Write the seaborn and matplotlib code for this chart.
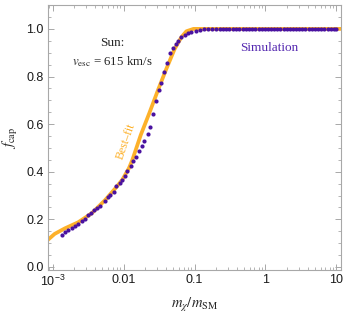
import numpy as np
import pandas as pd
import matplotlib
matplotlib.use('Agg')
import matplotlib.pyplot as plt
import matplotlib.ticker as mticker
import seaborn as sns

# simulation points (m_chi/m_SM, f_cap)
sim_x = [0.001358, 0.001518, 0.001654, 0.001849, 0.002062, 0.002298, 0.00257, 0.002865, 0.003194, 0.00349,
         0.00389, 0.004209, 0.004692, 0.005405, 0.006043, 0.006521, 0.007268, 0.007863, 0.008767, 0.009581,
         0.01044, 0.01129, 0.01259, 0.01376, 0.01484, 0.01654, 0.01807, 0.0195, 0.02181, 0.02375,
         0.02622, 0.02865, 0.03131, 0.03378, 0.03765, 0.04074, 0.04541, 0.04963, 0.05405, 0.05848,
         0.06521, 0.07268, 0.08128, 0.09061, 0.1044, 0.119, 0.1358,
         0.155, 0.176, 0.2, 0.225, 0.25, 0.28, 0.31, 0.35, 0.39, 0.43,
         0.48, 0.53, 0.59, 0.65, 0.72, 0.8, 0.88, 0.98, 1.08, 1.2,
         1.33, 1.47, 1.62, 1.8, 2.0, 2.2, 2.45, 2.7, 3.0, 3.3,
         3.65, 4.05, 4.5, 5.0, 5.5, 6.1, 6.75, 7.5, 8.3, 9.2, 10.0]
sim_y = [0.136, 0.148, 0.154, 0.164, 0.174, 0.182, 0.192, 0.203, 0.217, 0.226,
         0.238, 0.249, 0.258, 0.276, 0.293, 0.304, 0.316, 0.342, 0.352, 0.366,
         0.384, 0.405, 0.424, 0.447, 0.463, 0.489, 0.508, 0.531, 0.559, 0.587,
         0.643, 0.697, 0.742, 0.774, 0.821, 0.856, 0.900, 0.919, 0.937, 0.951,
         0.965, 0.975, 0.982, 0.989, 0.993, 0.996, 0.999,
         1.0, 1.0, 1.0, 1.0, 1.0, 1.0, 1.0, 1.0, 1.0, 1.0,
         1.0, 1.0, 1.0, 1.0, 1.0, 1.0, 1.0, 1.0, 1.0, 1.0,
         1.0, 1.0, 1.0, 1.0, 1.0, 1.0, 1.0, 1.0, 1.0, 1.0,
         1.0, 1.0, 1.0, 1.0, 1.0, 1.0, 1.0, 1.0, 1.0, 1.0, 1.0]

# best-fit curve
fit_x = [0.00085, 0.001068, 0.001484, 0.002298, 0.003571, 0.005532, 0.007686, 0.009581, 0.0119, 0.01331,
         0.01749, 0.02298, 0.03029, 0.03981, 0.05232, 0.06521, 0.07686, 0.09676, 0.2, 1.0, 12.0]
fit_y = [0.113, 0.139, 0.162, 0.188, 0.226, 0.282, 0.331, 0.366, 0.415, 0.45,
         0.555, 0.645, 0.74, 0.83, 0.915, 0.965, 0.99, 1.0, 1.0, 1.0, 1.0]

xticks = [0.001, 0.01, 0.1, 1, 10]
xticklabels = [r'$\mathregular{10^{-3}}$', '0.01', '0.1', '1', '10']
yticks = [0.0, 0.2, 0.4, 0.6, 0.8, 1.0]

orange = '#FDB12A'
purple = '#4A12A0'
gray = '#A8A8A8'

sns.set_style('ticks')
plt.rcParams['font.family'] = ['Liberation Sans', 'DejaVu Sans']
plt.rcParams['mathtext.fontset'] = 'stix'

sim = pd.DataFrame({'m': sim_x, 'f': sim_y})
fit = pd.DataFrame({'m': fit_x, 'f': fit_y})

fig = plt.figure(figsize=(3.49, 3.17), dpi=100)
ax = fig.add_axes([0.1375, 0.148, 0.8395, 0.836])

sns.lineplot(data=fit, x='m', y='f', color=orange, lw=2.7, ax=ax, zorder=2)
sns.scatterplot(data=sim, x='m', y='f', color=purple, s=9, linewidth=0, ax=ax, zorder=3)

ax.set_xscale('log')
ax.set_xlim(8.6e-4, 11.6)
ax.set_ylim(-0.013, 1.1)
ax.set_xticks(xticks)
ax.set_xticklabels(xticklabels)
ax.set_yticks(yticks)
ax.set_yticklabels(['%.1f' % v for v in yticks])
ax.xaxis.set_minor_locator(mticker.LogLocator(base=10, subs=np.arange(2, 10)))
ax.xaxis.set_minor_formatter(mticker.NullFormatter())
ax.yaxis.set_minor_locator(mticker.MultipleLocator(0.05))

for s in ax.spines.values():
    s.set_color(gray)
    s.set_linewidth(0.8)
ax.tick_params(which='both', direction='in', top=True, right=True, color=gray,
               labelsize=9, labelcolor='#1a1a1a', pad=3)
ax.tick_params(which='major', length=4, width=0.7)
ax.tick_params(which='minor', length=2.2, width=0.6)

ax.set_xlabel(r'$m_\chi/m_{\rm SM}$', fontsize=10.5, labelpad=5)
ax.set_ylabel(r'$f_{\rm cap}$', fontsize=10.5, labelpad=5)

serif = 'Liberation Serif'
ax.text(0.218, 0.857, 'Sun:', transform=ax.transAxes, ha='center', va='center',
        fontsize=9.5, family=serif)
ax.text(0.218, 0.785, r'$v_{\rm esc}$ = 615 km/s', transform=ax.transAxes, ha='center', va='center',
        fontsize=9.3, family=serif)
ax.text(0.754, 0.839, 'Simulation', transform=ax.transAxes, ha='center', va='center',
        fontsize=9.5, family=serif, color='#5428B0')
ax.text(0.266, 0.485, 'Best\u2013fit', transform=ax.transAxes, ha='center', va='center',
        fontsize=8.5, family=serif, color=orange, rotation=71)

fig.savefig('out.png', dpi=100)
